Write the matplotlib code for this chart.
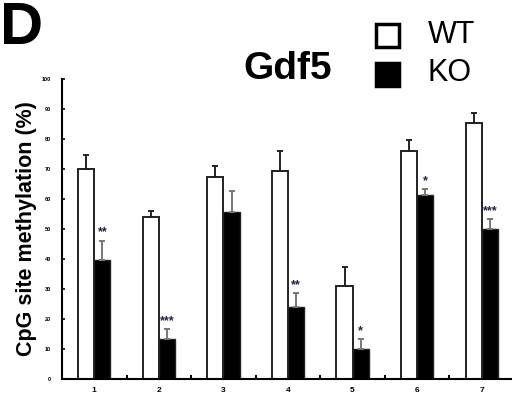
import numpy as np
import matplotlib.pyplot as plt
from matplotlib.patches import Rectangle

plt.rcParams['font.family'] = ['Liberation Sans', 'DejaVu Sans']

# data
sites = ['1', '2', '3', '4', '5', '6', '7']
wt = [70.0, 54.0, 67.3, 69.2, 31.1, 75.9, 85.2]
wt_err = [4.7, 1.9, 3.6, 6.7, 6.3, 3.9, 3.4]
ko = [39.6, 13.5, 55.6, 24.1, 10.0, 61.3, 50.0]
ko_err = [6.4, 3.1, 7.1, 4.5, 3.3, 2.0, 3.3]
stars = ['**', '***', '', '**', '*', '*', '***']

fig = plt.figure(figsize=(5.12, 3.97), dpi=100)
ax = fig.add_axes([62/512, 18/397, 452/512, 300/397])

x = np.arange(1, len(sites) + 1)
w = 0.25
ax.bar(x - w/2, wt, w, color='white', edgecolor='#222222', linewidth=1.4,
       yerr=[np.zeros(len(wt)), wt_err], error_kw=dict(ecolor='#222222', elinewidth=1.4, capsize=2.5, capthick=1.4))
ax.bar(x + w/2, ko, w, color='black', edgecolor='#222222', linewidth=1.0,
       yerr=[np.zeros(len(ko)), ko_err], error_kw=dict(ecolor='#777777', elinewidth=1.4, capsize=2.5, capthick=1.4))

for xi, k, e, s in zip(x, ko, ko_err, stars):
    if s:
        ax.text(xi + w/2, k + e + 0.8, s, ha='center', va='bottom', fontsize=9, fontweight='bold', color='#222244')

ax.set_xlim(0.5, 7.5)
ax.set_ylim(0, 100)
ax.set_yticks(np.arange(0, 101, 10))
ax.tick_params(axis='y', direction='in', length=2, width=1.2, labelsize=4, pad=8)
for t in ax.get_yticklabels():
    t.set_fontweight('bold')
ax.set_xticks(x)
ax.set_xticklabels(sites, fontsize=6, fontweight='bold')
ax.set_xticks(np.arange(1.5, 7.5, 1), minor=True)
ax.tick_params(axis='x', which='major', length=0, pad=6)
ax.tick_params(axis='x', which='minor', direction='in', length=3, width=1.4)
ax.spines['top'].set_visible(False)
ax.spines['right'].set_visible(False)
ax.spines['left'].set_linewidth(1.5)
ax.spines['bottom'].set_linewidth(1.5)
ax.set_ylabel('CpG site methylation (%)', fontsize=15.5, fontweight='bold', labelpad=3)

fig.text(0, 397/397 - 0.002, 'D', fontsize=43, fontweight='bold', ha='left', va='top')
fig.text(288/512, 1 - 69/397, 'Gdf5', fontsize=28, fontweight='bold', ha='center', va='center')

# legend
fig.patches.append(Rectangle((376/512, 1 - 47/397), 23/512, 23/397, transform=fig.transFigure,
                             facecolor='white', edgecolor='black', linewidth=2.5))
fig.patches.append(Rectangle((376/512, 1 - 86/397), 23/512, 23/397, transform=fig.transFigure,
                             facecolor='black', edgecolor='black', linewidth=2.5))
fig.text(428/512, 1 - 35/397, 'WT', fontsize=22, ha='left', va='center')
fig.text(428/512, 1 - 73/397, 'KO', fontsize=22, ha='left', va='center')

fig.savefig('out.png', dpi=100)
